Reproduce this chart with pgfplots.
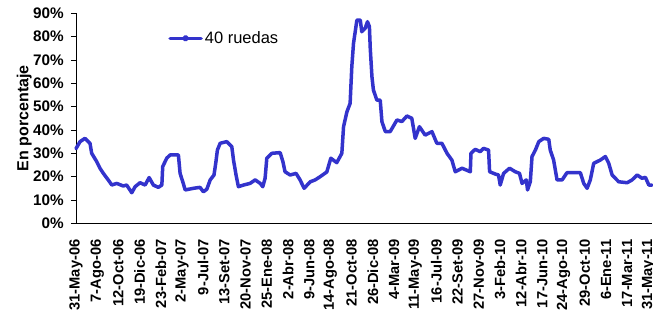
\documentclass[border=0pt]{standalone}
\usepackage{pgfplots}
\pgfplotsset{compat=1.18}
\usepackage{fontspec}
\setmainfont{Liberation Sans}
\definecolor{serie}{RGB}{51,51,204}
\begin{document}
\begin{tikzpicture}
\begin{axis}[
  scale only axis, width=576pt, height=210pt,
  at={(0,0)}, anchor=south west,
  xmin=0, xmax=27.17, ymin=0, ymax=90,
  axis x line=bottom, axis y line=left,
  axis line style={-, black, line width=0.8pt},
  xtick={0,...,27},
  xticklabels={31-May-06,7-Ago-06,12-Oct-06,19-Dic-06,23-Feb-07,2-May-07,9-Jul-07,13-Set-07,20-Nov-07,25-Ene-08,2-Abr-08,9-Jun-08,14-Ago-08,21-Oct-08,26-Dic-08,4-Mar-09,11-May-09,16-Jul-09,22-Set-09,27-Nov-09,3-Feb-10,12-Abr-10,17-Jun-10,24-Ago-10,29-Oct-10,6-Ene-11,17-Mar-11,31-May-11},
  x tick style={draw=none},
  xticklabel style={yshift=-11pt, rotate=90, anchor=east, inner sep=0pt, font=\fontsize{14.7}{17}\selectfont\bfseries},
  ytick={0,10,...,90},
  yticklabels={0\%,10\%,20\%,30\%,40\%,50\%,60\%,70\%,80\%,90\%},
  tick align=outside, major tick length=5pt,
  y tick style={black, line width=0.8pt},
  yticklabel style={anchor=east, inner sep=0pt, xshift=-7pt, font=\fontsize{15.3}{17}\selectfont\bfseries},
  ylabel={En porcentaje},
  ylabel style={at={(axis description cs:-0.090,0.5)}, anchor=center, font=\fontsize{16}{18}\selectfont\bfseries},
  legend style={at={(rel axis cs:0.16,0.881)}, anchor=west, draw=none, fill=none, inner sep=0pt, font=\fontsize{16.5}{18}\selectfont},
  legend cell align=left,
  legend image code/.code={\draw[#1] (0pt,0pt) -- (31pt,0pt); \fill[serie] (15.5pt,0pt) circle (1.6pt);},
  clip=false,
]
\addplot[serie, line width=3.5pt, line join=round, line cap=round] coordinates {
(0.00,32.0) (0.19,35.0) (0.42,36.4) (0.66,34.3) (0.74,30.0) (0.98,26.4) (1.13,23.6) (1.29,21.4)
(1.52,18.6) (1.69,16.4) (1.92,17.1) (2.23,16.0) (2.39,16.4) (2.63,13.1) (2.79,15.7) (3.02,17.4)
(3.26,16.4) (3.45,19.6) (3.65,16.4) (3.88,15.4) (4.05,16.4) (4.09,24.3) (4.28,27.9) (4.44,29.3)
(4.83,29.3) (4.91,21.4) (5.06,17.1) (5.15,14.3) (5.54,15.0) (5.85,15.4) (6.01,13.5) (6.17,14.6)
(6.33,18.6) (6.51,20.7) (6.61,27.0) (6.67,31.4) (6.80,34.3) (7.11,35.0) (7.35,32.8) (7.43,27.1)
(7.55,20.7) (7.66,15.7) (7.90,16.4) (8.21,17.1) (8.45,18.6) (8.69,17.1) (8.81,15.7) (8.92,19.3)
(9.00,27.9) (9.24,30.0) (9.63,30.3) (9.76,26.4) (9.86,22.1) (10.10,20.7) (10.38,21.4) (10.57,18.6)
(10.76,15.0) (11.05,17.8) (11.28,18.6) (11.52,20.0) (11.83,22.0) (12.02,27.9) (12.30,26.0) (12.54,30.0)
(12.62,41.4) (12.78,47.8) (12.93,51.4) (13.01,67.1) (13.09,77.1) (13.25,87.1) (13.41,87.1) (13.48,82.1)
(13.64,83.6) (13.75,86.4) (13.84,84.3) (13.88,75.0) (13.96,62.8) (14.03,57.1) (14.19,52.8) (14.35,52.8)
(14.43,43.6) (14.59,39.3) (14.82,39.3) (15.14,44.3) (15.37,43.6) (15.61,46.0) (15.84,45.0) (16.00,36.4)
(16.20,41.4) (16.47,37.8) (16.79,39.3) (17.02,34.3) (17.26,34.3) (17.50,30.0) (17.73,27.1) (17.89,22.1)
(18.21,23.6) (18.60,22.1) (18.63,30.0) (18.83,31.7) (19.07,30.7) (19.22,32.1) (19.46,31.4) (19.51,22.1)
(19.78,21.1) (19.93,20.7) (20.01,16.4) (20.17,21.4) (20.45,23.6) (20.72,22.1) (20.92,21.4) (21.04,17.1)
(21.24,18.6) (21.30,14.3) (21.43,17.8) (21.51,28.6) (21.67,31.4) (21.83,35.0) (22.06,36.4) (22.30,36.0)
(22.37,31.4) (22.53,27.1) (22.69,18.6) (22.93,18.6) (23.16,21.7) (23.79,21.7) (23.95,17.1) (24.11,15.0)
(24.26,18.6) (24.42,25.7) (24.73,27.1) (24.97,28.6) (25.13,25.7) (25.29,20.7) (25.60,17.8) (26.00,17.4)
(26.23,18.6) (26.47,20.7) (26.70,19.3) (26.86,19.7) (27.02,16.4) (27.17,16.4)
};
\addlegendentry{40 ruedas}
\end{axis}
\pgfresetboundingbox
\useasboundingbox (-76pt,-87.7pt) rectangle (577pt,223.3pt);
\end{tikzpicture}
\end{document}
